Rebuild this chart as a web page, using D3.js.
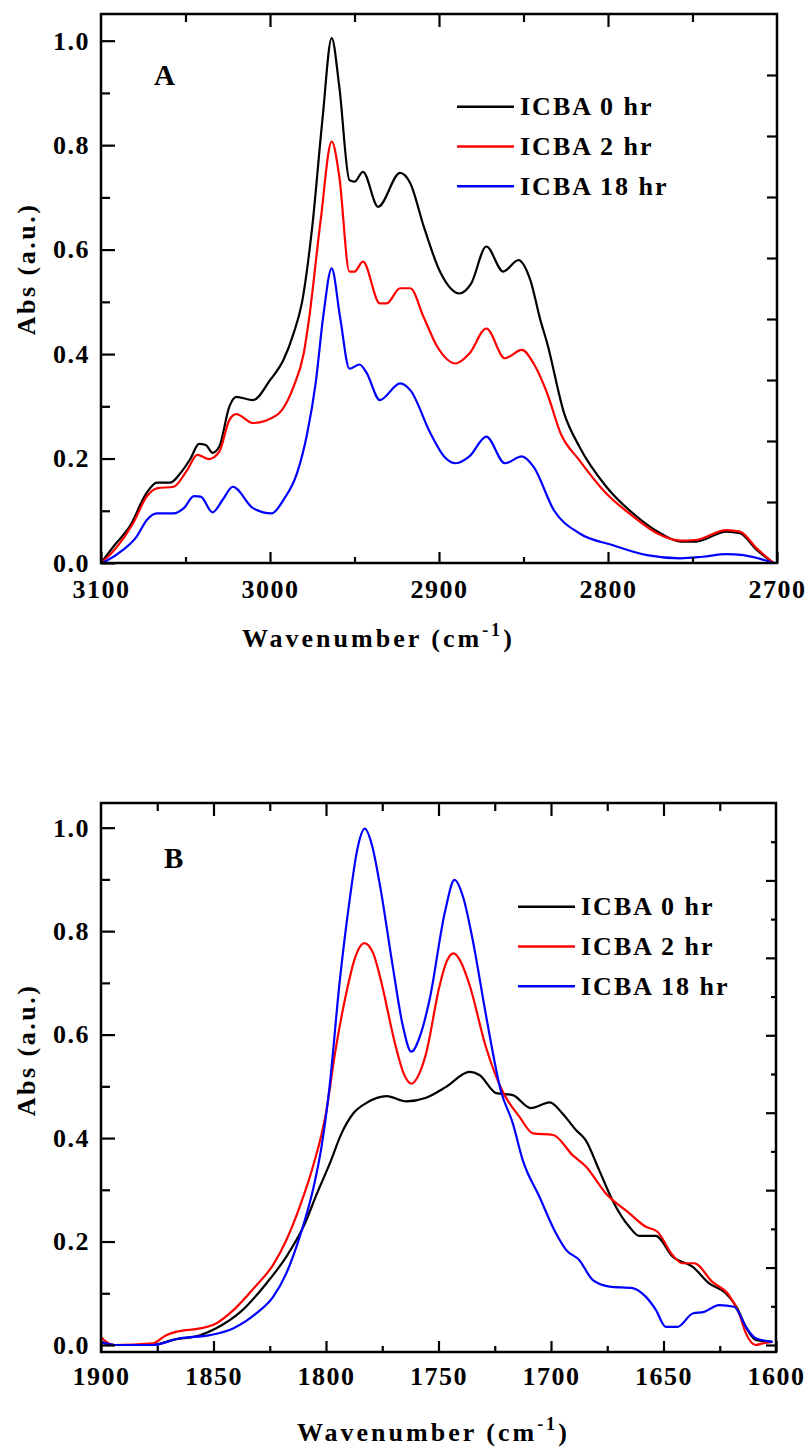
<!DOCTYPE html>
<html>
<head>
<meta charset="utf-8">
<script src="https://cdn.jsdelivr.net/npm/d3@7"></script>
<style>
body { margin: 0; background: #fff; }
svg { display: block; }
</style>
</head>
<body>
<svg width="806" height="1447"></svg>
<script>
const seriesNames = ["ICBA 0 hr", "ICBA 2 hr", "ICBA 18 hr"];
const seriesColors = ["#000000", "#ff0000", "#0000ff"];
const yTicks = [0, 0.2, 0.4, 0.6, 0.8, 1.0];
const yMinorTicks = [0.1, 0.3, 0.5, 0.7, 0.9];
const xTicksA = [3100, 3000, 2900, 2800, 2700];
const xMinorTicksA = [3050, 2950, 2850, 2750];
const xTicksB = [1900, 1850, 1800, 1750, 1700, 1650, 1600];
const xMinorTicksB = [1875, 1825, 1775, 1725, 1675, 1625];

// panel A: C-H stretch region, [wavenumber, abs]
const a0hr = [[3100,0],[3092,0.034],[3083,0.07],[3073,0.134],[3067,0.154],[3059,0.154],[3053,0.172],[3047,0.2],
  [3042,0.228],[3038,0.226],[3034,0.211],[3030,0.223],[3024,0.3],[3020,0.318],[3010,0.312],[3000,0.35],
  [2992,0.389],[2986,0.44],[2981,0.5],[2975,0.644],[2969,0.848],[2963.5,1.005],[2959,0.912],[2953,0.733],
  [2950,0.73],[2945,0.749],[2936,0.682],[2923,0.747],[2917,0.727],[2909,0.644],[2899,0.555],[2888,0.516],
  [2881,0.535],[2872,0.606],[2862,0.558],[2853,0.58],[2846,0.542],[2840,0.465],[2836,0.421],[2826,0.287],
  [2817,0.223],[2801,0.146],[2783,0.089],[2769,0.057],[2757,0.041],[2748,0.041],[2730,0.06],[2722,0.057],
  [2712,0.025],[2702,0]];
const a2hr = [[3100,0],[3091,0.029],[3081,0.076],[3073,0.127],[3067,0.143],[3057,0.146],[3049,0.178],[3043,0.207],
  [3036,0.199],[3030,0.213],[3024,0.274],[3020,0.285],[3010,0.268],[2996,0.283],[2986,0.338],[2980,0.402],
  [2977,0.465],[2970,0.657],[2963.5,0.807],[2959,0.74],[2953,0.558],[2950,0.558],[2945,0.577],[2935,0.497],
  [2931,0.497],[2923,0.526],[2917,0.526],[2909,0.47],[2901,0.414],[2890,0.382],[2882,0.401],[2872,0.449],
  [2861,0.392],[2851,0.408],[2844,0.382],[2836,0.325],[2828,0.248],[2817,0.197],[2801,0.133],[2785,0.089],
  [2771,0.057],[2757,0.043],[2748,0.044],[2730,0.063],[2722,0.06],[2712,0.028],[2702,0]];
const a18hr = [[3100,0],[3097,0.004],[3087,0.025],[3079,0.05],[3073,0.082],[3067,0.095],[3057,0.095],[3051,0.105],
  [3045,0.128],[3041,0.127],[3034,0.097],[3028,0.121],[3022,0.146],[3010,0.105],[2999,0.095],[2992,0.121],
  [2984,0.172],[2978,0.248],[2973,0.344],[2968.5,0.472],[2963.5,0.564],[2958.5,0.47],[2953,0.372],[2947,0.38],
  [2943,0.365],[2935,0.312],[2923,0.344],[2917,0.331],[2905,0.248],[2897,0.204],[2890,0.191],[2882,0.204],
  [2872,0.242],[2861,0.191],[2851,0.204],[2844,0.184],[2832,0.101],[2817,0.057],[2797,0.034],[2777,0.015],
  [2757,0.009],[2744,0.012],[2730,0.017],[2720,0.015],[2702,0]];

// panel B: carbonyl region
const b0hr = [[1900,0.006],[1894,0],[1877,0],[1868,0.01],[1856,0.019],[1849,0.032],[1838,0.064],[1826.5,0.119],
  [1817.6,0.171],[1810,0.229],[1804,0.293],[1798.4,0.35],[1793,0.41],[1788,0.447],[1782,0.468],[1773,0.481],
  [1764.4,0.471],[1755.5,0.478],[1746.6,0.499],[1736.2,0.528],[1731.8,0.522],[1724.4,0.487],[1717,0.483],[1709,0.458],
  [1700.5,0.469],[1695,0.448],[1689,0.416],[1684.6,0.396],[1678.6,0.338],[1672.7,0.28],[1665.3,0.229],
  [1660.8,0.211],[1653.4,0.211],[1646,0.171],[1637,0.151],[1629.7,0.119],[1622.3,0.1],[1617.2,0.071],
  [1613.4,0.035],[1609,0.01],[1601.6,0.006]];
const b2hr = [[1900,0.015],[1894.5,0],[1877,0.003],[1871,0.019],[1866,0.026],[1856,0.032],[1850,0.039],[1841,0.068],
  [1832,0.11],[1823.5,0.155],[1817.6,0.203],[1811.7,0.267],[1805.8,0.345],[1800,0.448],[1796,0.564],[1791,0.68],
  [1787,0.75],[1783,0.777],[1779,0.757],[1776,0.712],[1769,0.577],[1765.5,0.525],[1762,0.505],[1758.5,0.525],
  [1755.5,0.564],[1749.6,0.693],[1746.5,0.74],[1743.3,0.757],[1740,0.74],[1736,0.693],[1729,0.577],[1721.5,0.49],
  [1714,0.441],[1708,0.409],[1699,0.406],[1690.4,0.367],[1684.5,0.345],[1675.6,0.293],[1665.3,0.255],[1658,0.229],
  [1652.7,0.219],[1646,0.174],[1641.6,0.158],[1636.4,0.158],[1628.3,0.122],[1621,0.097],[1616.4,0.061],
  [1613.4,0.023],[1609,0],[1606,0.003],[1601.6,0.006]];
const b18hr = [[1900,0.006],[1894,0],[1877,0],[1865,0.013],[1851.6,0.019],[1841.3,0.032],[1831,0.061],[1823.5,0.093],
  [1817.6,0.139],[1811.7,0.209],[1805.8,0.3],[1802,0.383],[1798.4,0.5],[1794,0.699],[1789.5,0.86],[1786,0.96],
  [1782.8,0.998],[1779.5,0.965],[1776.2,0.893],[1770.3,0.731],[1766,0.62],[1762.1,0.567],[1758,0.6],[1754,0.667],
  [1747,0.84],[1742.9,0.899],[1739,0.865],[1734.8,0.783],[1728.8,0.635],[1722.2,0.49],[1717,0.429],[1712.6,0.358],
  [1705.2,0.287],[1697.8,0.216],[1693.3,0.184],[1687.4,0.164],[1681.5,0.126],[1674,0.113],[1663.8,0.11],
  [1657.8,0.093],[1653.4,0.068],[1649,0.035],[1643.8,0.035],[1637,0.061],[1632,0.064],[1625.3,0.077],
  [1618.6,0.074],[1613.4,0.035],[1609,0.013],[1601.6,0.006]];

const serifFont = "'Liberation Serif', 'Times New Roman', serif";

let svg = d3.select("svg")
  .attr("font-family", serifFont)
  .attr("font-weight", "bold");
svg.append("rect").attr("width", 806).attr("height", 1447).attr("fill", "#fff");

function drawPanel(p) {
  let g = svg.append("g");
  let x = d3.scaleLinear().domain(p.xDomain).range([p.left, p.right]);
  let y = d3.scaleLinear().domain(p.yDomain).range([p.bottom, p.top]);

  let line = d3.line()
    .x(d => x(d[0]))
    .y(d => y(d[1]))
    .curve(d3.curveMonotoneX);

  g.append("g")
    .attr("fill", "none")
    .attr("stroke-width", 2.2)
    .attr("stroke-linejoin", "round")
    .selectAll("path").data(p.series).join("path")
    .attr("stroke", (d, i) => seriesColors[i])
    .attr("d", d => line(d));

  // ticks, all pointing inwards
  let tickAxis = (axis, pos, size, values, fmt, pad) => {
    let a = g.append("g")
      .attr("transform", pos)
      .call(axis.tickValues(values).tickSizeInner(-size).tickSizeOuter(0)
        .tickPadding(pad || 0).tickFormat(fmt || ""));
    a.attr("font-family", serifFont).attr("font-weight", "bold").attr("font-size", 26);
    a.select(".domain").remove();
    a.selectAll("line").attr("stroke", "#000").attr("stroke-width", 2.2);
    a.selectAll("text")
      .attr("letter-spacing", 1.5)
      .attr("fill", "#000");
    return a;
  };
  let fx = d3.format("d"), fy = d3.format(".1f");
  tickAxis(d3.axisBottom(x), `translate(0,${p.bottom})`, 11, p.xTicks, fx, 14.5 + p.xLabelShift);
  tickAxis(d3.axisBottom(x), `translate(0,${p.bottom})`, 6, p.xMinor);
  tickAxis(d3.axisTop(x), `translate(0,${p.top})`, 13, p.xTicks.slice(1, -1));
  tickAxis(d3.axisTop(x), `translate(0,${p.top})`, 8, p.xMinor);
  tickAxis(d3.axisLeft(y), `translate(${p.left},0)`, 14, yTicks, fy, 11);
  tickAxis(d3.axisLeft(y), `translate(${p.left},0)`, 9, yMinorTicks);

  let yr = d3.scaleLinear().domain(p.rightDomain).range([y(0), p.top]);
  tickAxis(d3.axisRight(yr), `translate(${p.right},0)`, 10, p.rightMajor);
  tickAxis(d3.axisRight(yr), `translate(${p.right},0)`, 5, p.rightMinor);

  g.append("rect")
    .attr("x", p.left).attr("y", p.top)
    .attr("width", p.right - p.left).attr("height", p.bottom - p.top)
    .attr("fill", "none").attr("stroke", "#000").attr("stroke-width", 2.5);

  // panel letter
  g.append("text")
    .attr("x", p.letterPos[0]).attr("y", p.letterPos[1])
    .attr("font-size", 29)
    .text(p.letter);

  // legend
  let leg = g.append("g").selectAll("g").data(seriesNames).join("g")
    .attr("transform", (d, i) => `translate(0,${p.legendY + i * 39.8})`);
  leg.append("line")
    .attr("x1", p.legendX).attr("x2", p.legendX + 57)
    .attr("stroke", (d, i) => seriesColors[i]).attr("stroke-width", 2.4);
  leg.append("text")
    .attr("x", p.legendX + 63).attr("dy", "0.33em")
    .attr("font-size", 26).attr("letter-spacing", 2)
    .text(d => d);

  // axis titles
  let xt = g.append("text")
    .attr("x", p.xTitlePos[0]).attr("y", p.xTitlePos[1])
    .attr("font-size", 26).attr("letter-spacing", 3);
  xt.append("tspan").text("Wavenumber (cm");
  xt.append("tspan").attr("font-size", 18).attr("dy", -11).text("-1");
  xt.append("tspan").attr("dy", 11).text(")");

  g.append("text")
    .attr("transform", `translate(35,${p.yTitleY}) rotate(-90)`)
    .attr("text-anchor", "middle")
    .attr("font-size", 26).attr("letter-spacing", 2.5)
    .text("Abs (a.u.)");
}

drawPanel({
  left: 101, right: 777, top: 14, bottom: 563,
  xDomain: [3100, 2700], yDomain: [0, 1.0511],
  xTicks: xTicksA, xMinor: xMinorTicksA, xLabelShift: 2,
  rightDomain: [0, 9], rightMajor: d3.range(1, 9), rightMinor: [],
  series: [a0hr, a2hr, a18hr],
  letter: "A", letterPos: [154, 85],
  legendX: 457, legendY: 106.7,
  xTitlePos: [242, 647], yTitleY: 269
});

drawPanel({
  left: 101, right: 776, top: 803, bottom: 1352,
  xDomain: [1900, 1600], yDomain: [-0.01353, 1.0477],
  xTicks: xTicksB, xMinor: xMinorTicksB, xLabelShift: 0,
  rightDomain: [0, 7], rightMajor: d3.range(0, 7), rightMinor: d3.range(0.5, 7, 1),
  series: [b0hr, b2hr, b18hr],
  letter: "B", letterPos: [164, 868],
  legendX: 518, legendY: 906.7,
  xTitlePos: [297, 1441], yTitleY: 1050
});
</script>
</body>
</html>
